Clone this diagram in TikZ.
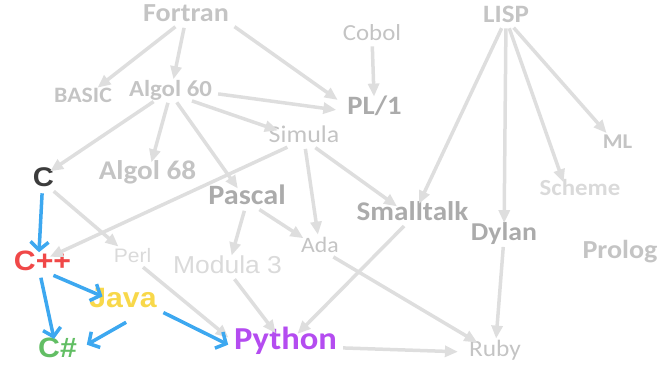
\documentclass[tikz,border=0pt]{standalone}
\usepackage{fontspec}
\newfontfamily\calibfont[FakeStretch=1.08]{Carlito}
\newfontfamily\arialfont[FakeStretch=1.08]{Liberation Sans}
\usetikzlibrary{arrows.meta}
\definecolor{grisosc}{HTML}{ABABAB}
\definecolor{grismed}{HTML}{C4C4C4}
\definecolor{grisclaro}{HTML}{DADADA}
\definecolor{gristrazo}{HTML}{DEDEDE}
\definecolor{azul}{HTML}{3DA8F0}
\definecolor{rojo}{HTML}{F04848}
\definecolor{amarillo}{HTML}{F8D84A}
\definecolor{verde}{HTML}{62BE64}
\definecolor{morado}{HTML}{B44CF0}
\definecolor{negro}{HTML}{3C3C3C}

\begin{document}
\begin{tikzpicture}[x=1pt,y=-1pt]
 \tikzset{lang node/.style={inner sep=3pt, text height=0.644em, text depth=0pt,
 		font=\calibfont\bfseries\fontsize{#1}{#1}\selectfont}, }
 \tikzset{thin node/.style={inner sep=3pt, text height=0.644em, text depth=0pt,
 		font=\calibfont\fontsize{#1}{#1}\selectfont}, }
 \tikzset{new node/.style={inner sep=3pt, text height=0.716em, text depth=0pt,
 		font=\arialfont\bfseries\fontsize{#1}{#1}\selectfont}, }
 \tikzset{thin arial/.style={inner sep=3pt, text height=0.716em, text depth=0pt,
 		font=\arialfont\fontsize{#1}{#1}\selectfont}, }
 \tikzset{linea/.style={-{Triangle[length=13pt,width=11pt]}, line width=3.5pt,
 		draw=gristrazo, shorten >=8pt, shorten <=3pt},}
 \tikzset{linea azul/.style={-{Straight Barb[length=8pt,width=18pt]}, line width=3.5pt,
 		draw=azul, shorten >=8pt, shorten <=4pt},}
 \useasboundingbox (0,0) rectangle (659,372);
 % old languages
 \node[lang node=26, text=grismed] (fortran) at (186,18.5) {Fortran};
 \node[thin node=23, text=grismed] (cobol) at (372,37) {Cobol};
 \node[lang node=25, text=grismed] (lisp) at (506,19) {LISP};
 \node[lang node=22, text=grismed] (basic) at (83,99) {BASIC};
 \node[lang node=23, text=grismed] (algolA) at (170.5,93.5) {Algol 60};
 \node[lang node=26.5, text=grisosc] (pli) at (374.5,111) {PL/1};
 \node[lang node=21, text=grismed] (ml) at (617.5,145.5) {ML};
 \node[thin node=24, text=grismed] (simula) at (304,139.5) {Simula};
 \node[lang node=27, text=grismed] (algolB) at (147.5,176.5) {Algol 68};
 \node[lang node=23, text=grisclaro] (scheme) at (580,192.5) {Scheme};
 \node[lang node=28, text=grisosc] (pascal) at (247,201.5) {Pascal};
 \node[lang node=27, text=grisosc] (smalltalk) at (412.5,217.5) {Smalltalk};
 \node[lang node=25.7, text=grisosc] (dylan) at (504,237.5) {Dylan};
 \node[lang node=26, text=grismed] (prolog) at (620,255) {Prolog};
 \node[thin arial=19.5, text=grisclaro] (perl) at (132.5,258.5) {Perl};
 \node[thin arial=24.5, text=grisclaro] (modula) at (227.5,270) {Modula 3};
 \node[thin node=22, text=grismed] (ada) at (320,249) {Ada};
 \node[thin node=23.5, text=grismed] (ruby) at (495,353) {Ruby};
 % the C family
 \node[new node=27, text=negro] (c) at (43.5,182.5) {C};
 \node[new node=28, text=rojo] (cpp) at (42.5,267) {C++};
 \node[new node=28, text=amarillo] (java) at (123,304) {Java};
 \node[new node=28, text=verde] (csharp) at (57.5,353.5) {C\#};
 \node[lang node=32, text=morado] (python) at (285.5,346) {Python};
 % gray links
 \foreach \x /\y in{fortran/basic,fortran/algolA,cobol/pli,algolA/simula,
 		algolA/algolB,algolA/pascal,simula/ada,simula/smalltalk,pascal/modula,
 		pascal/ada,c/perl,modula/python,smalltalk/python,ada/ruby,
 		python/ruby,dylan/ruby,lisp/smalltalk,lisp/dylan,lisp/ml}
 \draw[linea] (\x) -- (\y);
 \draw[linea] (fortran.south east) -- (pli.north west);
 \draw[linea] (algolA.east) -- (pli.west);
 \draw[linea] (algolA.204) -- (c.north);
 \draw[linea] (simula) -- (cpp.north);
 \draw[linea, shorten >=3pt] (perl) -- (python.north west);
 \draw[linea, shorten >=4pt] (lisp) -- (scheme.157);
 % blue links
 \draw[linea azul] (c.-100) -- (cpp.120);
 \draw[linea azul, shorten >=2pt] (cpp.-43) -- (java.160);
 \draw[linea azul] (cpp.250) -- (csharp.105);
 \draw[linea azul, shorten >=2pt, shorten <=1pt] ([shift={(4,11)}]java.south)
 	-- ([shift={(5,-1)}]csharp.north east);
 \draw[linea azul, shorten >=3pt] (java.south east) -- (python.west);
 %%
\end{tikzpicture}
\end{document}
